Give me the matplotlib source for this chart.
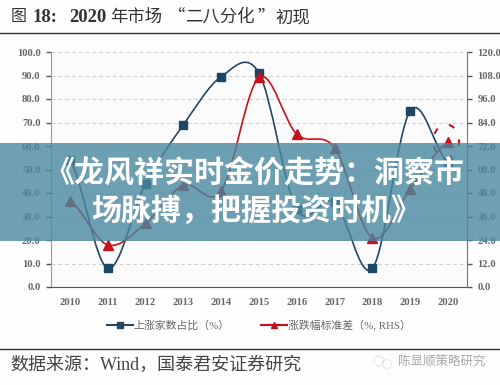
import matplotlib
matplotlib.use('Agg')
import matplotlib.pyplot as plt
from matplotlib.lines import Line2D
from matplotlib.patches import Ellipse, PathPatch, Rectangle
from matplotlib.path import Path

plt.rcParams['font.family'] = ['Liberation Serif', 'Noto Sans CJK SC', 'DejaVu Sans']

years = [2010, 2011, 2012, 2013, 2014, 2015, 2016, 2017, 2018, 2019, 2020]
up_share = [54.0, 8.0, 44.0, 69.0, 89.5, 91.0, 33.0, 36.0, 8.0, 75.0, 53.0]
# right axis values, %
std_dev = [44.0, 21.5, 32.5, 52.0, 49.0, 107.0, 78.0, 71.0, 25.0, 50.0, 74.0]
left_ticks = [0, 10, 20, 30, 40, 50, 60, 70, 80, 90, 100]
right_ticks = [0, 12, 24, 36, 48, 60, 72, 84, 96, 108, 120]

W, H = 500, 385
BLUE = '#27465f'
RED = '#c5121c'
cjk = ['Noto Sans CJK SC', 'DejaVu Sans']


def smooth_path(xs, ys):
    # same kind of smoothing as an Excel line, one bezier per segment
    verts = [(xs[0], ys[0])]
    codes = [Path.MOVETO]
    n = len(xs)
    for i in range(n - 1):
        y0 = ys[max(i - 1, 0)]
        y3 = ys[min(i + 2, n - 1)]
        verts.append((xs[i] + 1 / 3, ys[i] + (ys[i + 1] - y0) / 6))
        verts.append((xs[i + 1] - 1 / 3, ys[i + 1] - (y3 - ys[i]) / 6))
        verts.append((xs[i + 1], ys[i + 1]))
        codes += [Path.CURVE4, Path.CURVE4, Path.CURVE4]
    return Path(verts, codes)


fig = plt.figure(figsize=(W / 100, H / 100), dpi=100, facecolor='#fefefe')
ax = fig.add_axes([51 / W, 1 - 287 / H, 416 / W, 235 / H], facecolor='#fbfbfb')
ax2 = ax.twinx()

ax.set_xlim(2009.5, 2020.5)
ax.set_ylim(0, 100)
ax2.set_ylim(0, 120)
ax.set_xticks(years)
ax.set_yticks(left_ticks)
ax2.set_yticks(right_ticks)
ax.set_yticklabels(['%.1f' % v for v in left_ticks])
ax2.set_yticklabels(['%.1f' % v for v in right_ticks])

for a in (ax, ax2):
    a.tick_params(axis='y', length=3.5, width=1, color='#555555', labelsize=7.6,
                  labelcolor='#666666', pad=4)
    for lab in a.get_yticklabels():
        lab.set_fontweight('bold')
    for side in ('top', 'left', 'right', 'bottom'):
        a.spines[side].set_visible(False)
ax.tick_params(axis='x', length=0, labelsize=7.6, labelcolor='#666666', pad=8)
for lab in ax.get_xticklabels():
    lab.set_fontweight('bold')
ax.spines['left'].set_visible(True)
ax.spines['left'].set_color('#999999')
ax.spines['bottom'].set_visible(True)
ax.spines['bottom'].set_color('#555555')
ax2.spines['right'].set_visible(True)
ax2.spines['right'].set_color('#777777')

ax.grid(axis='y', color='#d2cec9', linestyle=(0, (4, 3)), linewidth=0.7)
ax.set_axisbelow(True)

ax.add_patch(PathPatch(smooth_path(years, up_share), fill=False, edgecolor=BLUE, linewidth=1.2))
ax.plot(years, up_share, linestyle='none', marker='s', markersize=6, color='#1c4666')
ax2.add_patch(PathPatch(smooth_path(years, std_dev), fill=False, edgecolor=RED, linewidth=1.2))
ax2.plot(years, std_dev, linestyle='none', marker='^', markersize=6.5, color=RED)
ax2.add_patch(Ellipse((2019.95, 74.5), 0.68, 17, fill=False, edgecolor=RED,
                      linewidth=1.5, linestyle=(0, (3, 6))))

handles = [
    Line2D([], [], color=BLUE, linewidth=1.5, marker='s', markersize=4.5),
    Line2D([], [], color=RED, linewidth=1.5, marker='^', markersize=4),
]
fig.legend(handles, ['上涨家数占比（%）', '涨跌幅标准差（%, RHS）'], ncol=2, frameon=False,
           loc='center', bbox_to_anchor=(259 / W, 1 - 325 / H), fontsize=7.8,
           labelcolor='#666666', handlelength=2.4, handletextpad=0.1, columnspacing=2.9)

# rules above and below the chart
fig.add_artist(Line2D([0, 1], [1 - 33 / H, 1 - 33 / H], color='#333333', linewidth=1))
fig.add_artist(Line2D([0, 1], [1 - 349 / H, 1 - 349 / H], color='#333333', linewidth=1))

# title pieces, bold numbers and lighter chinese like the original
fig.text(11 / W, 1 - 17 / H, '图', fontsize=11.5, color='#333333', family=cjk, va='center')
fig.text(33 / W, 1 - 18 / H, '18:', fontsize=13.5, color='#333333', fontweight='bold', va='center')
fig.text(69 / W, 1 - 18 / H, '2020', fontsize=13.5, color='#333333', fontweight='bold', va='center')
fig.text(110 / W, 1 - 17 / H, '年市场', fontsize=12.5, color='#333333', family=cjk, va='center')
fig.text(184 / W, 1 - 17 / H, '“', fontsize=12.5, color='#333333', family=cjk, ha='right', va='center')
fig.text(185 / W, 1 - 17 / H, '二八分化', fontsize=12.5, color='#333333', family=cjk, va='center')
fig.text(257 / W, 1 - 17 / H, '”', fontsize=12.5, color='#333333', family=cjk, va='center')
fig.text(275.5 / W, 1 - 17 / H, '初现', fontsize=12.5, color='#333333', family=cjk, va='center')

fig.text(10 / W, 1 - 365 / H, '数据来源：Wind，国泰君安证券研究', fontsize=13, color='#444444', va='center')
fig.text(398 / W, 1 - 362 / H, '陈显顺策略研究', fontsize=9, color='#a8a8a8', va='center')
for cx, cy, r in [(379, 361, 5), (387, 364, 4.5)]:
    fig.add_artist(Ellipse((cx / W, 1 - cy / H), 2 * r / W, 2 * r / H, fill=False, edgecolor='#c4c4c4',
                           linewidth=0.7, linestyle=':'))

# banner across the middle
fig.add_artist(Rectangle((0, 1 - 241 / H), 1, 98 / H, facecolor='#4a88a1', edgecolor='none', alpha=0.8))
fig.text(254.5 / W, 1 - 173 / H, '《龙风祥实时金价走势：洞察市', fontsize=21.6, color='white',
         fontweight='bold', family=cjk, ha='center', va='center')
fig.text(256 / W, 1 - 211 / H, '场脉搏，把握投资时机》', fontsize=21.6, color='white',
         fontweight='bold', family=cjk, ha='center', va='center')

fig.savefig('out.png', dpi=100)
